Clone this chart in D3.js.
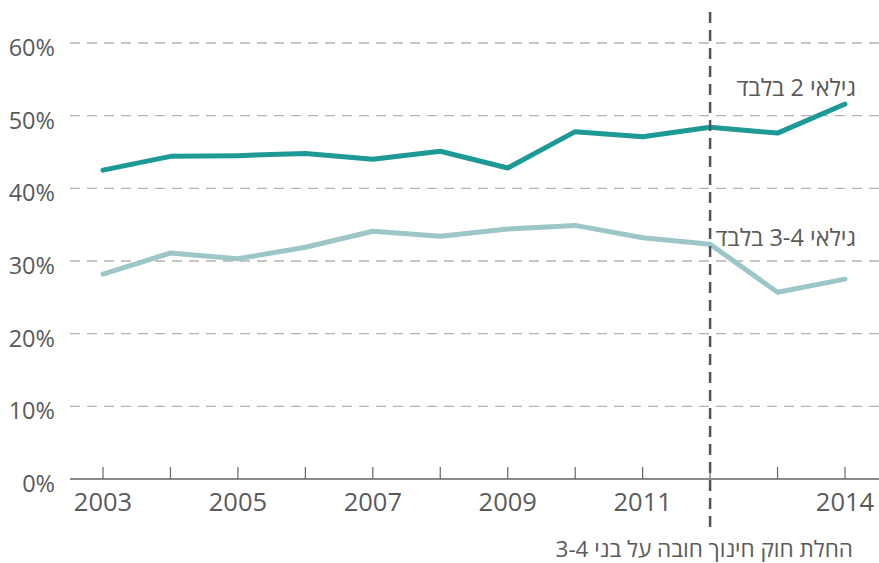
<!DOCTYPE html>
<html>
<head>
<meta charset="utf-8">
<script src="https://cdn.jsdelivr.net/npm/d3@7"></script>
<style>
  html, body { margin: 0; padding: 0; background: #fff; }
  svg { display: block; font-family: "Open Sans", "DejaVu Sans", sans-serif; font-weight: 400; }
</style>
</head>
<body>
<svg id="chart" width="879" height="563"></svg>
<script>
const years = [2003, 2004, 2005, 2006, 2007, 2008, 2009, 2010, 2011, 2012, 2013, 2014];
const age2Only = [42.5, 44.4, 44.5, 44.8, 44.0, 45.1, 42.8, 47.8, 47.1, 48.4, 47.6, 51.6];
const age34Only = [28.2, 31.1, 30.3, 31.9, 34.1, 33.4, 34.4, 34.9, 33.2, 32.3, 25.7, 27.5];
const seriesNames = ["גילאי 2 בלבד", "גילאי 3-4 בלבד"];
const yTicks = [0, 10, 20, 30, 40, 50, 60];
const xLabelYears = [2003, 2005, 2007, 2009, 2011, 2014];
const lawYear = 2012;
const lawLabel = "החלת חוק חינוך חובה על בני 3-4";

const svg = d3.select("#chart");
const x = d3.scaleLinear().domain([2003, 2014]).range([103, 845]);
const y = d3.scaleLinear().domain([0, 60]).range([479, 43]);
const textColor = "#5a5a5a";

// gridlines
svg.append("g").selectAll("line")
  .data(yTicks.filter(d => d > 0))
  .join("line")
  .attr("x1", 70).attr("x2", 879)
  .attr("y1", d => y(d)).attr("y2", d => y(d))
  .attr("stroke", "#b3b3b3").attr("stroke-width", 1.3)
  .attr("stroke-dasharray", "10,7");

// y labels
svg.append("g").selectAll("text")
  .data(yTicks)
  .join("text")
  .attr("x", 55).attr("y", d => y(d) + 13)
  .attr("text-anchor", "end")
  .attr("font-size", 23.5)
  .attr("fill", textColor)
  .text(d => d + "%");

// x axis line
svg.append("line")
  .attr("x1", 70).attr("x2", 879)
  .attr("y1", y(0)).attr("y2", y(0))
  .attr("stroke", "#666").attr("stroke-width", 1.3);

// ticks (upwards)
svg.append("g").selectAll("line")
  .data(years)
  .join("line")
  .attr("x1", d => x(d)).attr("x2", d => x(d))
  .attr("y1", y(0)).attr("y2", y(0) - 12)
  .attr("stroke", "#666").attr("stroke-width", 1.2);

// x labels
svg.append("g").selectAll("text")
  .data(xLabelYears)
  .join("text")
  .attr("x", d => x(d)).attr("y", 511)
  .attr("text-anchor", "middle")
  .attr("font-size", 25.5)
  .attr("fill", textColor)
  .text(d => d);

// lines
const line = d3.line().x((d, i) => x(years[i])).y(d => y(d));
svg.append("path").datum(age34Only)
  .attr("d", line).attr("fill", "none")
  .attr("stroke", "#9dc6c8").attr("stroke-width", 5)
  .attr("stroke-linecap", "round").attr("stroke-linejoin", "round");
svg.append("path").datum(age2Only)
  .attr("d", line).attr("fill", "none")
  .attr("stroke", "#1e9a96").attr("stroke-width", 5)
  .attr("stroke-linecap", "round").attr("stroke-linejoin", "round");

// law vertical dashed line
svg.append("line")
  .attr("x1", x(lawYear)).attr("x2", x(lawYear))
  .attr("y1", 12).attr("y2", 533)
  .attr("stroke", "#555").attr("stroke-width", 2.5)
  .attr("stroke-dasharray", "11,7");

// series labels
svg.append("text")
  .attr("x", 856).attr("y", 96)
  .attr("text-anchor", "end")
  .attr("font-size", 23.5).attr("fill", textColor)
  .text(seriesNames[0]);
svg.append("text")
  .attr("x", 856).attr("y", 246)
  .attr("text-anchor", "end")
  .attr("font-size", 23.5).attr("fill", textColor)
  .text(seriesNames[1]);

// law label
svg.append("text")
  .attr("x", 853).attr("y", 557)
  .attr("text-anchor", "end")
  .attr("font-size", 22.5).attr("fill", textColor)
  .text(lawLabel);
</script>
</body>
</html>
